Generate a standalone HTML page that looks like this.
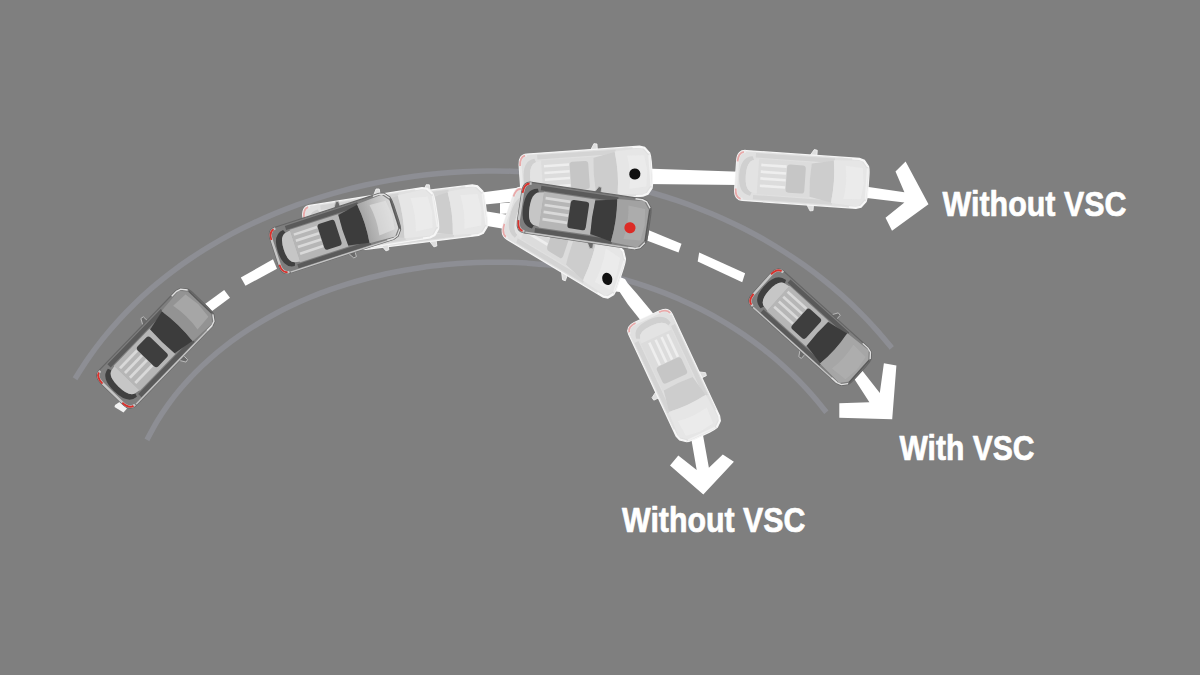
<!DOCTYPE html>
<html><head><meta charset="utf-8"><style>
html,body{margin:0;padding:0;background:#7f7f7f;}
svg{display:block;}
text{font-family:"Liberation Sans",sans-serif;font-weight:bold;font-size:35px;fill:#fff;stroke:#fff;stroke-width:0.7px;stroke-linejoin:round;}
</style></head><body>
<svg width="1200" height="675" viewBox="0 0 1200 675">
<rect width="1200" height="675" fill="#7f7f7f"/>
<path d="M 75.0,378.8 C 77.2,375.3 83.7,364.8 88.4,358.1 C 93.0,351.4 97.9,344.9 102.9,338.6 C 108.0,332.3 113.2,326.2 118.6,320.3 C 124.0,314.4 129.5,308.7 135.2,303.2 C 140.9,297.6 146.8,292.3 152.8,287.1 C 158.9,282.0 165.0,277.0 171.4,272.2 C 177.7,267.4 184.1,262.8 190.7,258.4 C 197.2,254.0 203.9,249.7 210.8,245.6 C 217.6,241.6 224.5,237.7 231.5,233.9 C 238.5,230.2 245.7,226.6 252.9,223.3 C 260.1,219.9 267.4,216.7 274.8,213.6 C 282.2,210.6 289.7,207.7 297.2,204.9 C 304.8,202.2 312.4,199.7 320.1,197.3 C 327.7,194.9 335.5,192.6 343.2,190.6 C 351.0,188.5 358.9,186.6 366.7,184.8 C 374.6,183.1 382.5,181.5 390.5,180.1 C 398.5,178.7 406.5,177.4 414.5,176.3 C 422.5,175.2 430.5,174.3 438.6,173.6 C 446.7,172.8 454.8,172.2 462.8,171.8 C 470.9,171.4 479.0,171.1 487.1,171.0 C 495.2,170.9 503.4,171.0 511.4,171.2 C 519.5,171.4 527.6,171.8 535.7,172.4 C 543.8,173.0 551.8,173.7 559.9,174.6 C 567.9,175.5 575.9,176.6 583.9,177.8 C 591.8,179.0 599.8,180.4 607.7,182.0 C 615.6,183.6 623.4,185.3 631.3,187.2 C 639.1,189.1 646.8,191.2 654.5,193.5 C 662.2,195.7 669.9,198.1 677.4,200.7 C 685.0,203.3 692.5,206.0 699.9,209.0 C 707.4,211.9 714.7,215.0 722.0,218.2 C 729.3,221.5 736.5,224.9 743.6,228.5 C 750.6,232.1 757.7,235.9 764.6,239.8 C 771.5,243.8 778.3,247.9 784.9,252.2 C 791.6,256.5 798.2,260.9 804.7,265.6 C 811.1,270.2 817.5,275.0 823.7,280.0 C 829.9,284.9 836.0,290.1 842.0,295.4 C 847.9,300.7 853.8,306.2 859.4,311.9 C 865.1,317.5 870.6,323.4 876.0,329.4 C 881.4,335.4 889.1,344.8 891.7,347.9" fill="none" stroke="#8d8e94" stroke-width="5.5" stroke-linecap="butt"/>
<path d="M 146.9,439.9 C 148.6,436.9 153.4,427.5 156.9,421.6 C 160.5,415.6 164.3,409.9 168.3,404.3 C 172.3,398.8 176.5,393.4 180.9,388.3 C 185.2,383.1 189.8,378.1 194.5,373.3 C 199.2,368.5 204.1,363.9 209.1,359.5 C 214.1,355.0 219.2,350.7 224.5,346.6 C 229.7,342.5 235.1,338.6 240.6,334.8 C 246.0,331.1 251.6,327.5 257.2,324.1 C 262.9,320.6 268.6,317.3 274.4,314.2 C 280.2,311.1 286.1,308.1 292.1,305.3 C 298.1,302.5 304.1,299.8 310.2,297.3 C 316.4,294.8 322.5,292.4 328.8,290.2 C 335.0,288.0 341.3,285.9 347.7,283.9 C 354.0,282.0 360.5,280.2 366.9,278.5 C 373.4,276.8 379.9,275.3 386.4,273.8 C 392.9,272.4 399.5,271.1 406.1,270.0 C 412.7,268.8 419.4,267.8 426.0,266.8 C 432.7,265.9 439.4,265.2 446.1,264.5 C 452.8,263.9 459.5,263.3 466.2,263.0 C 473.0,262.6 479.7,262.3 486.5,262.2 C 493.2,262.1 499.9,262.1 506.7,262.3 C 513.4,262.4 520.2,262.7 526.9,263.1 C 533.6,263.6 540.4,264.1 547.1,264.8 C 553.8,265.5 560.4,266.4 567.1,267.4 C 573.8,268.4 580.4,269.5 587.0,270.8 C 593.6,272.0 600.2,273.4 606.7,275.0 C 613.2,276.5 619.7,278.2 626.2,280.1 C 632.6,281.9 639.0,283.9 645.4,286.1 C 651.7,288.2 658.0,290.5 664.2,292.9 C 670.5,295.4 676.7,297.9 682.8,300.7 C 688.9,303.4 694.9,306.3 700.9,309.3 C 706.9,312.4 712.8,315.5 718.6,318.9 C 724.4,322.2 730.1,325.7 735.8,329.4 C 741.4,333.0 747.0,336.8 752.4,340.8 C 757.9,344.8 763.3,348.9 768.5,353.2 C 773.8,357.4 779.0,361.9 784.0,366.5 C 789.1,371.1 794.0,375.8 798.8,380.7 C 803.7,385.7 808.4,390.7 813.0,396.0 C 817.6,401.2 824.1,409.5 826.4,412.2" fill="none" stroke="#8d8e94" stroke-width="5.5" stroke-linecap="butt"/>
<polygon points="205.0,304.0 224.2,290.0 230.0,297.7 211.8,311.2" fill="#ffffff"/>
<polygon points="240.8,277.5 273.0,259.3 277.0,268.7 245.5,285.8" fill="#ffffff"/>
<polygon points="470.0,194.0 525.0,186.8 525.0,200.5 470.0,206.0" fill="#ffffff"/>
<polygon points="500.0,203.3 520.0,202.0 520.0,212.7 500.0,214.0" fill="#ffffff"/>
<polygon points="475.0,209.5 512.0,215.5 508.0,229.5 475.0,224.0" fill="#ffffff"/>
<polygon points="645.0,168.6 740.0,171.7 740.0,185.0 645.0,184.0" fill="#ffffff"/>
<polygon points="648.9,230.3 681.5,243.7 678.5,252.5 647.4,240.7" fill="#ffffff"/>
<polygon points="699.2,252.5 745.1,273.3 742.2,282.2 697.7,261.4" fill="#ffffff"/>
<polygon points="612.0,274.0 625.0,279.0 627.5,283.0 637.5,294.5 652.0,312.0 657.0,319.0 643.0,325.0 639.5,319.0 628.0,304.5 619.7,292.0 612.0,291.0" fill="#ffffff"/>
<polygon points="850.0,184.2 904.4,192.3 895.5,171.6 905.6,161.5 928.5,204.2 892.0,230.8 885.5,217.8 904.4,202.4 850.0,196.0" fill="#ffffff"/>
<polygon points="883.9,363.3 896.4,365.4 892.2,419.3 839.3,417.8 839.3,403.2 869.4,402.2 846.6,367.0 852.8,358.5 879.8,392.9" fill="#ffffff"/>
<polygon points="690.0,431.4 701.5,426.7 708.9,467.8 722.8,454.4 733.9,461.7 703.3,494.4 670.0,465.6 678.3,455.6 696.7,470.0" fill="#ffffff"/>
<g transform="translate(420.0 217.0) rotate(-7.0) skewX(0.0) scale(1.015 1.062)">
<path d="M 6,-23 L 10,-29.5 L 13,-29 L 13,-23 Z M 6,23 L 10,29.5 L 13,29 L 13,23 Z" fill="#dedede" stroke="#f2f2f2" stroke-width="0.8"/>
<path d="M -57,-24 L 55,-24 L 60,-22.5 L 64.5,-17 Q 65.5,-14 65.5,-8 L 65.5,8 Q 65.5,14 64.5,17 L 60,22.5 L 55,24 L -57,24 Q -65.5,24 -65.5,14 L -65.5,-14 Q -65.5,-24 -57,-24 Z" fill="#e0e0e0" stroke="#f5f5f5" stroke-width="1.2"/>
<path d="M -47,-22.3 L 31,-22.3 L 31,-18 L -47,-18 Z M -47,22.3 L 31,22.3 L 31,18 L -47,18 Z" fill="#d4d4d4"/>
<path d="M -57,-22.8 Q -64.3,-22.8 -64.3,-13 L -64.3,13 Q -64.3,22.8 -57,22.8" fill="none" stroke="#eaeaea" stroke-width="2.4"/>
<path d="M -59,-22.6 Q -64.4,-21.5 -64.6,-13 M -59,22.6 Q -64.4,21.5 -64.6,13" fill="none" stroke="#e9a9a9" stroke-width="1.8"/>
<path d="M -50,-19 Q -62,-18 -62,0 Q -62,18 -50,19 L -48.5,15.5 Q -55.5,14 -55.5,0 Q -55.5,-14 -48.5,-15.5 Z" fill="#d0d0d0"/>
<path d="M -48.5,-15.5 Q -55.5,-14 -55.5,0 Q -55.5,14 -48.5,15.5 L -43,16.5 L -43,-16.5 Z" fill="#e3e3e3"/>
<rect x="-43.5" y="-17" width="52" height="34" fill="#dcdcdc"/>
<rect x="-41" y="-12.5" width="25" height="2.6" fill="#eeeeee"/>
<rect x="-41" y="-6.0" width="25" height="2.6" fill="#eeeeee"/>
<rect x="-41" y="0.5" width="25" height="2.6" fill="#eeeeee"/>
<rect x="-41" y="7.5" width="25" height="2.6" fill="#eeeeee"/>
<rect x="-15.5" y="-13.5" width="18.5" height="27" rx="3" fill="#c6c6c6"/>
<path d="M 8.5,-16 L 30,-20 Q 33,0 30,20 L 8.5,16 Q 7,0 8.5,-16 Z" fill="#cdcdcd"/>
<path d="M 30,-20.5 L 57,-22 L 63.5,-14 L 64,0 L 63.5,14 L 57,22 L 30,20.5 Q 33,0 30,-20.5 Z" fill="#e6e6e6"/>
<path d="M 42,-16 L 59,-15 L 61,0 L 59,15 L 42,16 Q 45,0 42,-16 Z" fill="#efefef" opacity="0.6"/>
<path d="M 63.8,-15 L 63.8,15" fill="none" stroke="#f0f0f0" stroke-width="1.6"/>
<path d="M 48,-23.2 L 55,-23.2 L 59.5,-21.8 L 63.8,-16.5 M 48,23.2 L 55,23.2 L 59.5,21.8 L 63.8,16.5" fill="none" stroke="#f8f8f8" stroke-width="1.3"/>
</g>
<g transform="translate(371.0 221.5) rotate(-9.0) skewX(0.0) scale(1.015 1.062)">
<path d="M 6,-23 L 10,-29.5 L 13,-29 L 13,-23 Z M 6,23 L 10,29.5 L 13,29 L 13,23 Z" fill="#dedede" stroke="#f2f2f2" stroke-width="0.8"/>
<path d="M -57,-24 L 55,-24 L 60,-22.5 L 64.5,-17 Q 65.5,-14 65.5,-8 L 65.5,8 Q 65.5,14 64.5,17 L 60,22.5 L 55,24 L -57,24 Q -65.5,24 -65.5,14 L -65.5,-14 Q -65.5,-24 -57,-24 Z" fill="#e0e0e0" stroke="#f5f5f5" stroke-width="1.2"/>
<path d="M -47,-22.3 L 31,-22.3 L 31,-18 L -47,-18 Z M -47,22.3 L 31,22.3 L 31,18 L -47,18 Z" fill="#d4d4d4"/>
<path d="M -57,-22.8 Q -64.3,-22.8 -64.3,-13 L -64.3,13 Q -64.3,22.8 -57,22.8" fill="none" stroke="#eaeaea" stroke-width="2.4"/>
<path d="M -59,-22.6 Q -64.4,-21.5 -64.6,-13 M -59,22.6 Q -64.4,21.5 -64.6,13" fill="none" stroke="#e9a9a9" stroke-width="1.8"/>
<path d="M -50,-19 Q -62,-18 -62,0 Q -62,18 -50,19 L -48.5,15.5 Q -55.5,14 -55.5,0 Q -55.5,-14 -48.5,-15.5 Z" fill="#d0d0d0"/>
<path d="M -48.5,-15.5 Q -55.5,-14 -55.5,0 Q -55.5,14 -48.5,15.5 L -43,16.5 L -43,-16.5 Z" fill="#e3e3e3"/>
<rect x="-43.5" y="-17" width="52" height="34" fill="#dcdcdc"/>
<rect x="-41" y="-12.5" width="25" height="2.6" fill="#eeeeee"/>
<rect x="-41" y="-6.0" width="25" height="2.6" fill="#eeeeee"/>
<rect x="-41" y="0.5" width="25" height="2.6" fill="#eeeeee"/>
<rect x="-41" y="7.5" width="25" height="2.6" fill="#eeeeee"/>
<rect x="-15.5" y="-13.5" width="18.5" height="27" rx="3" fill="#c6c6c6"/>
<path d="M 8.5,-16 L 30,-20 Q 33,0 30,20 L 8.5,16 Q 7,0 8.5,-16 Z" fill="#cdcdcd"/>
<path d="M 30,-20.5 L 57,-22 L 63.5,-14 L 64,0 L 63.5,14 L 57,22 L 30,20.5 Q 33,0 30,-20.5 Z" fill="#e6e6e6"/>
<path d="M 42,-16 L 59,-15 L 61,0 L 59,15 L 42,16 Q 45,0 42,-16 Z" fill="#efefef" opacity="0.6"/>
<path d="M 63.8,-15 L 63.8,15" fill="none" stroke="#f0f0f0" stroke-width="1.6"/>
<path d="M 48,-23.2 L 55,-23.2 L 59.5,-21.8 L 63.8,-16.5 M 48,23.2 L 55,23.2 L 59.5,21.8 L 63.8,16.5" fill="none" stroke="#f8f8f8" stroke-width="1.3"/>
</g>
<g transform="translate(586.0 175.0) rotate(-4.0) skewX(0.0) scale(1.008 1.042)">
<path d="M 6,-23 L 10,-29.5 L 13,-29 L 13,-23 Z M 6,23 L 10,29.5 L 13,29 L 13,23 Z" fill="#dedede" stroke="#f2f2f2" stroke-width="0.8"/>
<path d="M -57,-24 L 55,-24 L 60,-22.5 L 64.5,-17 Q 65.5,-14 65.5,-8 L 65.5,8 Q 65.5,14 64.5,17 L 60,22.5 L 55,24 L -57,24 Q -65.5,24 -65.5,14 L -65.5,-14 Q -65.5,-24 -57,-24 Z" fill="#e0e0e0" stroke="#f5f5f5" stroke-width="1.2"/>
<path d="M -47,-22.3 L 31,-22.3 L 31,-18 L -47,-18 Z M -47,22.3 L 31,22.3 L 31,18 L -47,18 Z" fill="#d4d4d4"/>
<path d="M -57,-22.8 Q -64.3,-22.8 -64.3,-13 L -64.3,13 Q -64.3,22.8 -57,22.8" fill="none" stroke="#eaeaea" stroke-width="2.4"/>
<path d="M -59,-22.6 Q -64.4,-21.5 -64.6,-13 M -59,22.6 Q -64.4,21.5 -64.6,13" fill="none" stroke="#e9a9a9" stroke-width="1.8"/>
<path d="M -50,-19 Q -62,-18 -62,0 Q -62,18 -50,19 L -48.5,15.5 Q -55.5,14 -55.5,0 Q -55.5,-14 -48.5,-15.5 Z" fill="#d0d0d0"/>
<path d="M -48.5,-15.5 Q -55.5,-14 -55.5,0 Q -55.5,14 -48.5,15.5 L -43,16.5 L -43,-16.5 Z" fill="#e3e3e3"/>
<rect x="-43.5" y="-17" width="52" height="34" fill="#dcdcdc"/>
<rect x="-41" y="-12.5" width="25" height="2.6" fill="#eeeeee"/>
<rect x="-41" y="-6.0" width="25" height="2.6" fill="#eeeeee"/>
<rect x="-41" y="0.5" width="25" height="2.6" fill="#eeeeee"/>
<rect x="-41" y="7.5" width="25" height="2.6" fill="#eeeeee"/>
<rect x="-15.5" y="-13.5" width="18.5" height="27" rx="3" fill="#c6c6c6"/>
<path d="M 8.5,-16 L 30,-20 Q 33,0 30,20 L 8.5,16 Q 7,0 8.5,-16 Z" fill="#cdcdcd"/>
<path d="M 30,-20.5 L 57,-22 L 63.5,-14 L 64,0 L 63.5,14 L 57,22 L 30,20.5 Q 33,0 30,-20.5 Z" fill="#e6e6e6"/>
<path d="M 42,-16 L 59,-15 L 61,0 L 59,15 L 42,16 Q 45,0 42,-16 Z" fill="#efefef" opacity="0.6"/>
<path d="M 63.8,-15 L 63.8,15" fill="none" stroke="#f0f0f0" stroke-width="1.6"/>
<path d="M 48,-23.2 L 55,-23.2 L 59.5,-21.8 L 63.8,-16.5 M 48,23.2 L 55,23.2 L 59.5,21.8 L 63.8,16.5" fill="none" stroke="#f8f8f8" stroke-width="1.3"/>
<ellipse cx="48.4" cy="2.3" rx="5.56" ry="5.38" fill="#111"/>
</g>
<g transform="translate(564.3 243.5) rotate(31.0) skewX(12.7) scale(1.000 1.083)">
<path d="M 6,-23 L 10,-29.5 L 13,-29 L 13,-23 Z M 6,23 L 10,29.5 L 13,29 L 13,23 Z" fill="#dedede" stroke="#f2f2f2" stroke-width="0.8"/>
<path d="M -57,-24 L 55,-24 L 60,-22.5 L 64.5,-17 Q 65.5,-14 65.5,-8 L 65.5,8 Q 65.5,14 64.5,17 L 60,22.5 L 55,24 L -57,24 Q -65.5,24 -65.5,14 L -65.5,-14 Q -65.5,-24 -57,-24 Z" fill="#e0e0e0" stroke="#f5f5f5" stroke-width="1.2"/>
<path d="M -47,-22.3 L 31,-22.3 L 31,-18 L -47,-18 Z M -47,22.3 L 31,22.3 L 31,18 L -47,18 Z" fill="#d4d4d4"/>
<path d="M -57,-22.8 Q -64.3,-22.8 -64.3,-13 L -64.3,13 Q -64.3,22.8 -57,22.8" fill="none" stroke="#eaeaea" stroke-width="2.4"/>
<path d="M -59,-22.6 Q -64.4,-21.5 -64.6,-13 M -59,22.6 Q -64.4,21.5 -64.6,13" fill="none" stroke="#e9a9a9" stroke-width="1.8"/>
<path d="M -50,-19 Q -62,-18 -62,0 Q -62,18 -50,19 L -48.5,15.5 Q -55.5,14 -55.5,0 Q -55.5,-14 -48.5,-15.5 Z" fill="#d0d0d0"/>
<path d="M -48.5,-15.5 Q -55.5,-14 -55.5,0 Q -55.5,14 -48.5,15.5 L -43,16.5 L -43,-16.5 Z" fill="#e3e3e3"/>
<rect x="-43.5" y="-17" width="52" height="34" fill="#dcdcdc"/>
<rect x="-41" y="-12.5" width="25" height="2.6" fill="#eeeeee"/>
<rect x="-41" y="-6.0" width="25" height="2.6" fill="#eeeeee"/>
<rect x="-41" y="0.5" width="25" height="2.6" fill="#eeeeee"/>
<rect x="-41" y="7.5" width="25" height="2.6" fill="#eeeeee"/>
<rect x="-15.5" y="-13.5" width="18.5" height="27" rx="3" fill="#c6c6c6"/>
<path d="M 8.5,-16 L 30,-20 Q 33,0 30,20 L 8.5,16 Q 7,0 8.5,-16 Z" fill="#cdcdcd"/>
<path d="M 30,-20.5 L 57,-22 L 63.5,-14 L 64,0 L 63.5,14 L 57,22 L 30,20.5 Q 33,0 30,-20.5 Z" fill="#e6e6e6"/>
<path d="M 42,-16 L 59,-15 L 61,0 L 59,15 L 42,16 Q 45,0 42,-16 Z" fill="#efefef" opacity="0.6"/>
<path d="M 63.8,-15 L 63.8,15" fill="none" stroke="#f0f0f0" stroke-width="1.6"/>
<path d="M 48,-23.2 L 55,-23.2 L 59.5,-21.8 L 63.8,-16.5 M 48,23.2 L 55,23.2 L 59.5,21.8 L 63.8,16.5" fill="none" stroke="#f8f8f8" stroke-width="1.3"/>
<ellipse cx="53.2" cy="7.6" rx="5.60" ry="5.17" fill="#111"/>
</g>
<g transform="translate(802.0 179.5) rotate(4.0) skewX(0.0) scale(1.015 1.042)">
<path d="M 6,-23 L 10,-29.5 L 13,-29 L 13,-23 Z M 6,23 L 10,29.5 L 13,29 L 13,23 Z" fill="#dedede" stroke="#f2f2f2" stroke-width="0.8"/>
<path d="M -57,-24 L 55,-24 L 60,-22.5 L 64.5,-17 Q 65.5,-14 65.5,-8 L 65.5,8 Q 65.5,14 64.5,17 L 60,22.5 L 55,24 L -57,24 Q -65.5,24 -65.5,14 L -65.5,-14 Q -65.5,-24 -57,-24 Z" fill="#e0e0e0" stroke="#f5f5f5" stroke-width="1.2"/>
<path d="M -47,-22.3 L 31,-22.3 L 31,-18 L -47,-18 Z M -47,22.3 L 31,22.3 L 31,18 L -47,18 Z" fill="#d4d4d4"/>
<path d="M -57,-22.8 Q -64.3,-22.8 -64.3,-13 L -64.3,13 Q -64.3,22.8 -57,22.8" fill="none" stroke="#eaeaea" stroke-width="2.4"/>
<path d="M -59,-22.6 Q -64.4,-21.5 -64.6,-13 M -59,22.6 Q -64.4,21.5 -64.6,13" fill="none" stroke="#e9a9a9" stroke-width="1.8"/>
<path d="M -50,-19 Q -62,-18 -62,0 Q -62,18 -50,19 L -48.5,15.5 Q -55.5,14 -55.5,0 Q -55.5,-14 -48.5,-15.5 Z" fill="#d0d0d0"/>
<path d="M -48.5,-15.5 Q -55.5,-14 -55.5,0 Q -55.5,14 -48.5,15.5 L -43,16.5 L -43,-16.5 Z" fill="#e3e3e3"/>
<rect x="-43.5" y="-17" width="52" height="34" fill="#dcdcdc"/>
<rect x="-41" y="-12.5" width="25" height="2.6" fill="#eeeeee"/>
<rect x="-41" y="-6.0" width="25" height="2.6" fill="#eeeeee"/>
<rect x="-41" y="0.5" width="25" height="2.6" fill="#eeeeee"/>
<rect x="-41" y="7.5" width="25" height="2.6" fill="#eeeeee"/>
<rect x="-15.5" y="-13.5" width="18.5" height="27" rx="3" fill="#c6c6c6"/>
<path d="M 8.5,-16 L 30,-20 Q 33,0 30,20 L 8.5,16 Q 7,0 8.5,-16 Z" fill="#cdcdcd"/>
<path d="M 30,-20.5 L 57,-22 L 63.5,-14 L 64,0 L 63.5,14 L 57,22 L 30,20.5 Q 33,0 30,-20.5 Z" fill="#e6e6e6"/>
<path d="M 42,-16 L 59,-15 L 61,0 L 59,15 L 42,16 Q 45,0 42,-16 Z" fill="#efefef" opacity="0.6"/>
<path d="M 63.8,-15 L 63.8,15" fill="none" stroke="#f0f0f0" stroke-width="1.6"/>
<path d="M 48,-23.2 L 55,-23.2 L 59.5,-21.8 L 63.8,-16.5 M 48,23.2 L 55,23.2 L 59.5,21.8 L 63.8,16.5" fill="none" stroke="#f8f8f8" stroke-width="1.3"/>
</g>
<g transform="translate(674.6 376.1) rotate(65.0) skewX(0.0) scale(1.000 1.000)">
<path d="M 6,-23 L 10,-29.5 L 13,-29 L 13,-23 Z M 6,23 L 10,29.5 L 13,29 L 13,23 Z" fill="#dedede" stroke="#f2f2f2" stroke-width="0.8"/>
<path d="M -57,-24 L 55,-24 L 60,-22.5 L 64.5,-17 Q 65.5,-14 65.5,-8 L 65.5,8 Q 65.5,14 64.5,17 L 60,22.5 L 55,24 L -57,24 Q -65.5,24 -65.5,14 L -65.5,-14 Q -65.5,-24 -57,-24 Z" fill="#e0e0e0" stroke="#f5f5f5" stroke-width="1.2"/>
<path d="M -47,-22.3 L 31,-22.3 L 31,-18 L -47,-18 Z M -47,22.3 L 31,22.3 L 31,18 L -47,18 Z" fill="#d4d4d4"/>
<path d="M -57,-22.8 Q -64.3,-22.8 -64.3,-13 L -64.3,13 Q -64.3,22.8 -57,22.8" fill="none" stroke="#eaeaea" stroke-width="2.4"/>
<path d="M -59,-22.6 Q -64.4,-21.5 -64.6,-13 M -59,22.6 Q -64.4,21.5 -64.6,13" fill="none" stroke="#e9a9a9" stroke-width="1.8"/>
<path d="M -50,-19 Q -62,-18 -62,0 Q -62,18 -50,19 L -48.5,15.5 Q -55.5,14 -55.5,0 Q -55.5,-14 -48.5,-15.5 Z" fill="#d0d0d0"/>
<path d="M -48.5,-15.5 Q -55.5,-14 -55.5,0 Q -55.5,14 -48.5,15.5 L -43,16.5 L -43,-16.5 Z" fill="#e3e3e3"/>
<rect x="-43.5" y="-17" width="52" height="34" fill="#dcdcdc"/>
<rect x="-41" y="-12.5" width="25" height="2.6" fill="#eeeeee"/>
<rect x="-41" y="-6.0" width="25" height="2.6" fill="#eeeeee"/>
<rect x="-41" y="0.5" width="25" height="2.6" fill="#eeeeee"/>
<rect x="-41" y="7.5" width="25" height="2.6" fill="#eeeeee"/>
<rect x="-15.5" y="-13.5" width="18.5" height="27" rx="3" fill="#c6c6c6"/>
<path d="M 8.5,-16 L 30,-20 Q 33,0 30,20 L 8.5,16 Q 7,0 8.5,-16 Z" fill="#cdcdcd"/>
<path d="M 30,-20.5 L 57,-22 L 63.5,-14 L 64,0 L 63.5,14 L 57,22 L 30,20.5 Q 33,0 30,-20.5 Z" fill="#e6e6e6"/>
<path d="M 42,-16 L 59,-15 L 61,0 L 59,15 L 42,16 Q 45,0 42,-16 Z" fill="#efefef" opacity="0.6"/>
<path d="M 63.8,-15 L 63.8,15" fill="none" stroke="#f0f0f0" stroke-width="1.6"/>
<path d="M 48,-23.2 L 55,-23.2 L 59.5,-21.8 L 63.8,-16.5 M 48,23.2 L 55,23.2 L 59.5,21.8 L 63.8,16.5" fill="none" stroke="#f8f8f8" stroke-width="1.3"/>
</g>
<polygon points="115,405 119.5,402 127,408.5 123.5,412.5 114.5,407" fill="#f2f2f2"/>
<g transform="translate(156.6 347.4) rotate(-46.0) skewX(0.0) scale(0.985 1.062)">
<path d="M 6,-23 L 10,-29.5 L 13,-29 L 13,-23 Z M 6,23 L 10,29.5 L 13,29 L 13,23 Z" fill="#6a6a6a" stroke="#c4c4c4" stroke-width="0.8"/>
<path d="M -57,-24 L 55,-24 L 60,-22.5 L 64.5,-17 Q 65.5,-14 65.5,-8 L 65.5,8 Q 65.5,14 64.5,17 L 60,22.5 L 55,24 L -57,24 Q -65.5,24 -65.5,14 L -65.5,-14 Q -65.5,-24 -57,-24 Z" fill="#7e7e7e" stroke="#666666" stroke-width="1.2"/>
<path d="M -47,-22.3 L 31,-22.3 L 31,-18 L -47,-18 Z M -47,22.3 L 31,22.3 L 31,18 L -47,18 Z" fill="#5a5a5a"/>
<path d="M -57,-22.8 Q -64.3,-22.8 -64.3,-13 L -64.3,13 Q -64.3,22.8 -57,22.8" fill="none" stroke="#c6c6c6" stroke-width="2.4"/>
<path d="M -59,-22.6 Q -64.4,-21.5 -64.6,-13 M -59,22.6 Q -64.4,21.5 -64.6,13" fill="none" stroke="#d8312c" stroke-width="1.8"/>
<path d="M -50,-19 Q -62,-18 -62,0 Q -62,18 -50,19 L -48.5,15.5 Q -55.5,14 -55.5,0 Q -55.5,-14 -48.5,-15.5 Z" fill="#404040"/>
<path d="M -48.5,-15.5 Q -55.5,-14 -55.5,0 Q -55.5,14 -48.5,15.5 L -43,16.5 L -43,-16.5 Z" fill="#c6c6c6"/>
<rect x="-43.5" y="-17" width="52" height="34" fill="#b6b6b6"/>
<rect x="-41" y="-12.5" width="25" height="2.6" fill="#d9d9d9"/>
<rect x="-41" y="-6.0" width="25" height="2.6" fill="#d9d9d9"/>
<rect x="-41" y="0.5" width="25" height="2.6" fill="#d9d9d9"/>
<rect x="-41" y="7.5" width="25" height="2.6" fill="#d9d9d9"/>
<rect x="-15.5" y="-13.5" width="18.5" height="27" rx="3" fill="#3e3e3e"/>
<path d="M 8.5,-16 L 30,-20 Q 33,0 30,20 L 8.5,16 Q 7,0 8.5,-16 Z" fill="#3c3c3c"/>
<path d="M 30,-20.5 L 57,-22 L 63.5,-14 L 64,0 L 63.5,14 L 57,22 L 30,20.5 Q 33,0 30,-20.5 Z" fill="#939393"/>
<path d="M 42,-16 L 59,-15 L 61,0 L 59,15 L 42,16 Q 45,0 42,-16 Z" fill="#b2b2b2" opacity="0.6"/>
<path d="M 63.8,-15 L 63.8,15" fill="none" stroke="#5a5a5a" stroke-width="1.6"/>
<path d="M -56,23.4 L 55,23.4" fill="none" stroke="#c4c4c4" stroke-width="1.4"/>
<path d="M 48,-23.2 L 55,-23.2 L 59.5,-21.8 L 63.8,-16.5 M 48,23.2 L 55,23.2 L 59.5,21.8 L 63.8,16.5" fill="none" stroke="#e0e0e0" stroke-width="1.3"/>
</g>
<g transform="translate(335.4 232.9) rotate(-18.0) skewX(0.0) scale(0.977 1.000)">
<path d="M 6,-23 L 10,-29.5 L 13,-29 L 13,-23 Z M 6,23 L 10,29.5 L 13,29 L 13,23 Z" fill="#6a6a6a" stroke="#c4c4c4" stroke-width="0.8"/>
<path d="M -57,-24 L 55,-24 L 60,-22.5 L 64.5,-17 Q 65.5,-14 65.5,-8 L 65.5,8 Q 65.5,14 64.5,17 L 60,22.5 L 55,24 L -57,24 Q -65.5,24 -65.5,14 L -65.5,-14 Q -65.5,-24 -57,-24 Z" fill="#7e7e7e" stroke="#666666" stroke-width="1.2"/>
<path d="M -47,-22.3 L 31,-22.3 L 31,-18 L -47,-18 Z M -47,22.3 L 31,22.3 L 31,18 L -47,18 Z" fill="#5a5a5a"/>
<path d="M -57,-22.8 Q -64.3,-22.8 -64.3,-13 L -64.3,13 Q -64.3,22.8 -57,22.8" fill="none" stroke="#c6c6c6" stroke-width="2.4"/>
<path d="M -59,-22.6 Q -64.4,-21.5 -64.6,-13 M -59,22.6 Q -64.4,21.5 -64.6,13" fill="none" stroke="#d8312c" stroke-width="1.8"/>
<path d="M -50,-19 Q -62,-18 -62,0 Q -62,18 -50,19 L -48.5,15.5 Q -55.5,14 -55.5,0 Q -55.5,-14 -48.5,-15.5 Z" fill="#404040"/>
<path d="M -48.5,-15.5 Q -55.5,-14 -55.5,0 Q -55.5,14 -48.5,15.5 L -43,16.5 L -43,-16.5 Z" fill="#c6c6c6"/>
<rect x="-43.5" y="-17" width="52" height="34" fill="#b6b6b6"/>
<rect x="-41" y="-12.5" width="25" height="2.6" fill="#d9d9d9"/>
<rect x="-41" y="-6.0" width="25" height="2.6" fill="#d9d9d9"/>
<rect x="-41" y="0.5" width="25" height="2.6" fill="#d9d9d9"/>
<rect x="-41" y="7.5" width="25" height="2.6" fill="#d9d9d9"/>
<rect x="-15.5" y="-13.5" width="18.5" height="27" rx="3" fill="#3e3e3e"/>
<path d="M 8.5,-16 L 30,-20 Q 33,0 30,20 L 8.5,16 Q 7,0 8.5,-16 Z" fill="#3c3c3c"/>
<defs><linearGradient id="hg1" x1="0" y1="0" x2="1" y2="0"><stop offset="0" stop-color="#a4a4a4"/><stop offset="1" stop-color="#dadada"/></linearGradient></defs>
<path d="M 30,-20.5 L 57,-22 L 63.5,-14 L 64,0 L 63.5,14 L 57,22 L 30,20.5 Q 33,0 30,-20.5 Z" fill="url(#hg1)"/>
<path d="M 42,-16 L 59,-15 L 61,0 L 59,15 L 42,16 Q 45,0 42,-16 Z" fill="#e4e4e4" opacity="0.6"/>
<path d="M 63.8,-15 L 63.8,15" fill="none" stroke="#5a5a5a" stroke-width="1.6"/>
<path d="M -56,23.4 L 55,23.4" fill="none" stroke="#c4c4c4" stroke-width="1.4"/>
<path d="M 48,-23.2 L 55,-23.2 L 59.5,-21.8 L 63.8,-16.5 M 48,23.2 L 55,23.2 L 59.5,21.8 L 63.8,16.5" fill="none" stroke="#e0e0e0" stroke-width="1.3"/>
</g>
<g transform="translate(584.4 216.0) rotate(8.5) skewX(0.0) scale(1.000 1.062)">
<path d="M 6,-23 L 10,-29.5 L 13,-29 L 13,-23 Z M 6,23 L 10,29.5 L 13,29 L 13,23 Z" fill="#6a6a6a" stroke="#c4c4c4" stroke-width="0.8"/>
<path d="M -57,-24 L 55,-24 L 60,-22.5 L 64.5,-17 Q 65.5,-14 65.5,-8 L 65.5,8 Q 65.5,14 64.5,17 L 60,22.5 L 55,24 L -57,24 Q -65.5,24 -65.5,14 L -65.5,-14 Q -65.5,-24 -57,-24 Z" fill="#7e7e7e" stroke="#666666" stroke-width="1.2"/>
<path d="M -47,-22.3 L 31,-22.3 L 31,-18 L -47,-18 Z M -47,22.3 L 31,22.3 L 31,18 L -47,18 Z" fill="#5a5a5a"/>
<path d="M -57,-22.8 Q -64.3,-22.8 -64.3,-13 L -64.3,13 Q -64.3,22.8 -57,22.8" fill="none" stroke="#c6c6c6" stroke-width="2.4"/>
<path d="M -59,-22.6 Q -64.4,-21.5 -64.6,-13 M -59,22.6 Q -64.4,21.5 -64.6,13" fill="none" stroke="#d8312c" stroke-width="1.8"/>
<path d="M -50,-19 Q -62,-18 -62,0 Q -62,18 -50,19 L -48.5,15.5 Q -55.5,14 -55.5,0 Q -55.5,-14 -48.5,-15.5 Z" fill="#404040"/>
<path d="M -48.5,-15.5 Q -55.5,-14 -55.5,0 Q -55.5,14 -48.5,15.5 L -43,16.5 L -43,-16.5 Z" fill="#c6c6c6"/>
<rect x="-43.5" y="-17" width="52" height="34" fill="#b6b6b6"/>
<rect x="-41" y="-12.5" width="25" height="2.6" fill="#d9d9d9"/>
<rect x="-41" y="-6.0" width="25" height="2.6" fill="#d9d9d9"/>
<rect x="-41" y="0.5" width="25" height="2.6" fill="#d9d9d9"/>
<rect x="-41" y="7.5" width="25" height="2.6" fill="#d9d9d9"/>
<rect x="-15.5" y="-13.5" width="18.5" height="27" rx="3" fill="#3e3e3e"/>
<path d="M 8.5,-16 L 30,-20 Q 33,0 30,20 L 8.5,16 Q 7,0 8.5,-16 Z" fill="#3c3c3c"/>
<path d="M 30,-20.5 L 57,-22 L 63.5,-14 L 64,0 L 63.5,14 L 57,22 L 30,20.5 Q 33,0 30,-20.5 Z" fill="#a2a2a2"/>
<path d="M 42,-16 L 59,-15 L 61,0 L 59,15 L 42,16 Q 45,0 42,-16 Z" fill="#b2b2b2" opacity="0.6"/>
<path d="M 63.8,-15 L 63.8,15" fill="none" stroke="#5a5a5a" stroke-width="1.6"/>
<path d="M -56,23.4 L 55,23.4" fill="none" stroke="#c4c4c4" stroke-width="1.4"/>
<path d="M 48,-23.2 L 55,-23.2 L 59.5,-21.8 L 63.8,-16.5 M 48,23.2 L 55,23.2 L 59.5,21.8 L 63.8,16.5" fill="none" stroke="#e0e0e0" stroke-width="1.3"/>
<ellipse cx="46.8" cy="4.6" rx="5.60" ry="5.27" fill="#dc2b26"/>
</g>
<g transform="translate(811.0 328.0) rotate(42.0) skewX(0.0) scale(1.015 1.000)">
<path d="M 6,-23 L 10,-29.5 L 13,-29 L 13,-23 Z M 6,23 L 10,29.5 L 13,29 L 13,23 Z" fill="#6a6a6a" stroke="#c4c4c4" stroke-width="0.8"/>
<path d="M -57,-24 L 55,-24 L 60,-22.5 L 64.5,-17 Q 65.5,-14 65.5,-8 L 65.5,8 Q 65.5,14 64.5,17 L 60,22.5 L 55,24 L -57,24 Q -65.5,24 -65.5,14 L -65.5,-14 Q -65.5,-24 -57,-24 Z" fill="#7e7e7e" stroke="#666666" stroke-width="1.2"/>
<path d="M -47,-22.3 L 31,-22.3 L 31,-18 L -47,-18 Z M -47,22.3 L 31,22.3 L 31,18 L -47,18 Z" fill="#5a5a5a"/>
<path d="M -57,-22.8 Q -64.3,-22.8 -64.3,-13 L -64.3,13 Q -64.3,22.8 -57,22.8" fill="none" stroke="#c6c6c6" stroke-width="2.4"/>
<path d="M -59,-22.6 Q -64.4,-21.5 -64.6,-13 M -59,22.6 Q -64.4,21.5 -64.6,13" fill="none" stroke="#d8312c" stroke-width="1.8"/>
<path d="M -50,-19 Q -62,-18 -62,0 Q -62,18 -50,19 L -48.5,15.5 Q -55.5,14 -55.5,0 Q -55.5,-14 -48.5,-15.5 Z" fill="#404040"/>
<path d="M -48.5,-15.5 Q -55.5,-14 -55.5,0 Q -55.5,14 -48.5,15.5 L -43,16.5 L -43,-16.5 Z" fill="#c6c6c6"/>
<rect x="-43.5" y="-17" width="52" height="34" fill="#b6b6b6"/>
<rect x="-41" y="-12.5" width="25" height="2.6" fill="#d9d9d9"/>
<rect x="-41" y="-6.0" width="25" height="2.6" fill="#d9d9d9"/>
<rect x="-41" y="0.5" width="25" height="2.6" fill="#d9d9d9"/>
<rect x="-41" y="7.5" width="25" height="2.6" fill="#d9d9d9"/>
<rect x="-15.5" y="-13.5" width="18.5" height="27" rx="3" fill="#3e3e3e"/>
<path d="M 8.5,-16 L 30,-20 Q 33,0 30,20 L 8.5,16 Q 7,0 8.5,-16 Z" fill="#3c3c3c"/>
<path d="M 30,-20.5 L 57,-22 L 63.5,-14 L 64,0 L 63.5,14 L 57,22 L 30,20.5 Q 33,0 30,-20.5 Z" fill="#a6a6a6"/>
<path d="M 42,-16 L 59,-15 L 61,0 L 59,15 L 42,16 Q 45,0 42,-16 Z" fill="#b2b2b2" opacity="0.6"/>
<path d="M 63.8,-15 L 63.8,15" fill="none" stroke="#5a5a5a" stroke-width="1.6"/>
<path d="M -56,23.4 L 55,23.4" fill="none" stroke="#c4c4c4" stroke-width="1.4"/>
<path d="M 48,-23.2 L 55,-23.2 L 59.5,-21.8 L 63.8,-16.5 M 48,23.2 L 55,23.2 L 59.5,21.8 L 63.8,16.5" fill="none" stroke="#e0e0e0" stroke-width="1.3"/>
</g>
<text x="942.5" y="216.0" textLength="184.0" lengthAdjust="spacingAndGlyphs">Without VSC</text>
<text x="899.5" y="459.5" textLength="135.0" lengthAdjust="spacingAndGlyphs">With VSC</text>
<text x="622.0" y="532.0" textLength="183.5" lengthAdjust="spacingAndGlyphs">Without VSC</text>
</svg>
</body></html>
